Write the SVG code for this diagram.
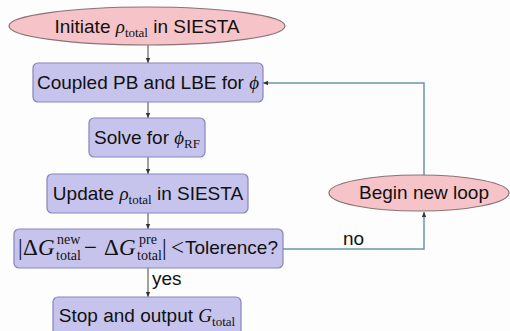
<svg xmlns="http://www.w3.org/2000/svg" width="510" height="331" viewBox="0 0 510 331">
<style>
.ell{fill:#f6c4c8;stroke:#8a7276;stroke-width:1.2}
.box{fill:#c6c4ec;stroke:#8785b9;stroke-width:1.2}
.t{font-family:"Liberation Sans",Arial,sans-serif;font-size:19px;fill:#111}
.m{font-family:"Liberation Serif","Times New Roman",serif;font-style:italic}
.r{font-family:"Liberation Serif","Times New Roman",serif;font-style:normal;font-size:13px}
.s{font-family:"Liberation Serif","Times New Roman",serif;font-size:14px;fill:#111}
.g{font-family:"Liberation Serif","Times New Roman",serif;font-size:23px;fill:#111}
.c{fill:none;stroke:#444;stroke-width:1}
.l{fill:none;stroke:#6a97a7;stroke-width:1.5}
</style>
<defs>
<marker id="a" markerWidth="6" markerHeight="6" refX="5" refY="3" orient="auto" markerUnits="userSpaceOnUse"><path d="M0,0.8 L5,3 L0,5.2 z" fill="#333"/></marker>
</defs>
<rect width="510" height="331" fill="#fdfdfd"/>
<g id="connectors">
<line class="c" x1="148" y1="45" x2="148" y2="63" marker-end="url(#a)"/>
<line class="c" x1="148" y1="102" x2="148" y2="118" marker-end="url(#a)"/>
<line class="c" x1="148" y1="157" x2="148" y2="174" marker-end="url(#a)"/>
<line class="c" x1="148" y1="213" x2="148" y2="229" marker-end="url(#a)"/>
<line class="c" x1="148" y1="268" x2="148" y2="297" marker-end="url(#a)"/>
<polyline class="l" points="283,249 424,249 424,212" marker-end="url(#a)"/>
<polyline class="l" points="424,175 424,83 263,83" marker-end="url(#a)"/>
<text class="t" x="152" y="285">yes</text>
<text class="t" x="343" y="245">no</text>
</g>
<g id="init">
<ellipse class="ell" cx="147" cy="26" rx="138" ry="19"/>
<text class="t" x="147" y="33" text-anchor="middle">Initiate <tspan class="m">ρ</tspan><tspan class="r" dy="4">total</tspan><tspan dy="-4"> in SIESTA</tspan></text>
</g>
<g id="coupled">
<rect class="box" x="33" y="63" width="230" height="39" rx="5"/>
<text class="t" x="148" y="89" text-anchor="middle">Coupled PB and LBE for <tspan class="m">ϕ</tspan></text>
</g>
<g id="solve">
<rect class="box" x="89" y="118" width="116" height="39" rx="5"/>
<text class="t" x="147" y="144" text-anchor="middle">Solve for <tspan class="m">ϕ</tspan><tspan class="r" dy="4">RF</tspan></text>
</g>
<g id="update">
<rect class="box" x="47" y="174" width="201" height="39" rx="5"/>
<text class="t" x="148" y="200" text-anchor="middle">Update <tspan class="m">ρ</tspan><tspan class="r" dy="4">total</tspan><tspan dy="-4"> in SIESTA</tspan></text>
</g>
<g id="check">
<rect class="box" x="14" y="229" width="269" height="39" rx="5"/>
<text class="g" x="18" y="255">|</text>
<text class="g" x="23" y="255">Δ</text>
<text class="g m" x="38" y="255">G</text>
<text class="s" x="57" y="244">new</text>
<text class="s" x="56" y="260">total</text>
<text class="g" x="84" y="255">−</text>
<text class="g" x="104" y="255">Δ</text>
<text class="g m" x="119" y="255">G</text>
<text class="s" x="139" y="244">pre</text>
<text class="s" x="137" y="260">total</text>
<text class="g" x="162" y="255">|</text>
<text class="g" x="171" y="255" font-size="21">&lt;</text>
<text class="t" x="185" y="254">Tolerence?</text>
</g>
<g id="stop">
<rect class="box" x="53" y="297" width="188" height="40" rx="5"/>
<text class="t" x="147" y="322" text-anchor="middle">Stop and output <tspan class="m">G</tspan><tspan class="r" dy="4">total</tspan></text>
</g>
<g id="loop">
<ellipse class="ell" cx="419" cy="193" rx="90" ry="18"/>
<text class="t" x="424" y="199" text-anchor="middle">Begin new loop</text>
</g>
</svg>
